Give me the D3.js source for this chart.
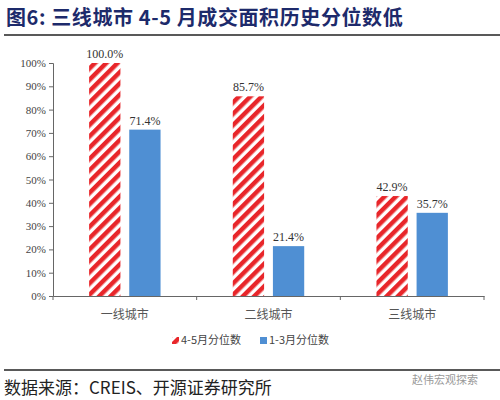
<!DOCTYPE html>
<html><head><meta charset="utf-8">
<script src="https://cdn.jsdelivr.net/npm/d3@7"></script>
<style>body{margin:0;background:#fff}</style>
</head><body><svg id="c" width="500" height="400"></svg>
<script>
const categories = ['一线城市', '二线城市', '三线城市'];
const seriesNames = ['4-5月分位数', '1-3月分位数'];
const aprMay = [100.0, 85.7, 42.9];
const janMar = [71.4, 21.4, 35.7];
const yTicks = [0, 10, 20, 30, 40, 50, 60, 70, 80, 90, 100];

const svg = d3.select('#c');
const font = '"Noto Sans CJK SC", sans-serif';
const serif = '"Liberation Serif", "Noto Sans CJK SC", serif';

// title
svg.append('text').attr('x', 6).attr('y', 25).attr('fill', '#1d2a6b')
  .attr('font-family', font).attr('font-weight', 'bold').attr('font-size', 20).attr('letter-spacing', 0.6)
  .text('图6:  三线城市 4-5 月成交面积历史分位数低');
svg.append('line').attr('x1', 4).attr('x2', 500).attr('y1', 35).attr('y2', 35)
  .attr('stroke', '#222').attr('stroke-width', 1.5);

const defs = svg.append('defs');
const pat = defs.append('pattern').attr('id', 'hatch').attr('patternUnits', 'userSpaceOnUse')
  .attr('width', 8).attr('height', 8).attr('patternTransform', 'rotate(45)');
pat.append('rect').attr('width', 8).attr('height', 8).attr('fill', '#fff');
pat.append('rect').attr('width', 4.5).attr('height', 8).attr('fill', '#e8262a');

const x0 = d3.scaleBand().domain(categories).range([53, 484]);
const x1 = d3.scaleBand().domain(seriesNames).range([0, x0.bandwidth()]).paddingInner(0.22).paddingOuter(0.9);
const y = d3.scaleLinear().domain([0, 100]).range([296, 63]);

svg.append('g').attr('transform', 'translate(53,0)')
  .call(d3.axisLeft(y).tickValues(yTicks).tickFormat(d => d + '%').tickSize(4))
  .call(g => g.selectAll('text').attr('font-family', serif).attr('font-size', 11).attr('fill', '#444'))
  .call(g => g.selectAll('line,path').attr('stroke', '#666'));
svg.append('g').attr('transform', 'translate(0,296)')
  .call(d3.axisBottom(x0).tickSize(0).tickPadding(14))
  .call(g => g.selectAll('text').attr('font-family', font).attr('font-size', 12).attr('fill', '#555'))
  .call(g => g.select('path').attr('stroke', '#666'));
svg.append('g').selectAll('line').data(categories.concat(['end'])).join('line')
  .attr('x1', (d, i) => 53 + i * x0.bandwidth()).attr('x2', (d, i) => 53 + i * x0.bandwidth())
  .attr('y1', 296).attr('y2', 300).attr('stroke', '#666');

const rows = categories.map((c, i) => ({ c, v: [aprMay[i], janMar[i]] }));
const g = svg.append('g').selectAll('g').data(rows).join('g')
  .attr('transform', d => `translate(${x0(d.c)},0)`);
g.selectAll('rect').data(d => d.v.map((v, k) => ({ k, v }))).join('rect')
  .attr('x', d => x1(seriesNames[d.k])).attr('width', x1.bandwidth())
  .attr('y', d => y(d.v)).attr('height', d => 296 - y(d.v))
  .attr('fill', d => d.k === 0 ? 'url(#hatch)' : '#4f8fd3');
g.selectAll('text').data(d => d.v.map((v, k) => ({ k, v }))).join('text')
  .attr('x', d => x1(seriesNames[d.k]) + x1.bandwidth() / 2).attr('y', d => y(d.v) - 5)
  .attr('text-anchor', 'middle').attr('font-family', serif).attr('font-size', 12).attr('fill', '#333')
  .text(d => d.v.toFixed(1) + '%');

// legend
const lg = svg.append('g').attr('transform', 'translate(172,342)');
seriesNames.forEach((s, i) => {
  const gx = i * 88;
  lg.append('rect').attr('x', gx).attr('y', -5).attr('width', 7).attr('height', 7)
    .attr('fill', i === 0 ? 'url(#hatch)' : '#4f8fd3');
  lg.append('text').attr('x', gx + 9).attr('y', 2).attr('font-family', font).attr('font-size', 11)
    .attr('fill', '#444').text(s);
});

// footer
svg.append('line').attr('x1', 4).attr('x2', 500).attr('y1', 370).attr('y2', 370)
  .attr('stroke', '#222').attr('stroke-width', 1.5);
svg.append('text').attr('x', 4).attr('y', 394).attr('font-family', font).attr('font-size', 17)
  .attr('fill', '#222').text('数据来源：CREIS、开源证券研究所');
svg.append('text').attr('x', 412).attr('y', 384).attr('font-family', font).attr('font-size', 11)
  .attr('fill', '#999').text('赵伟宏观探索');
</script></body></html>
